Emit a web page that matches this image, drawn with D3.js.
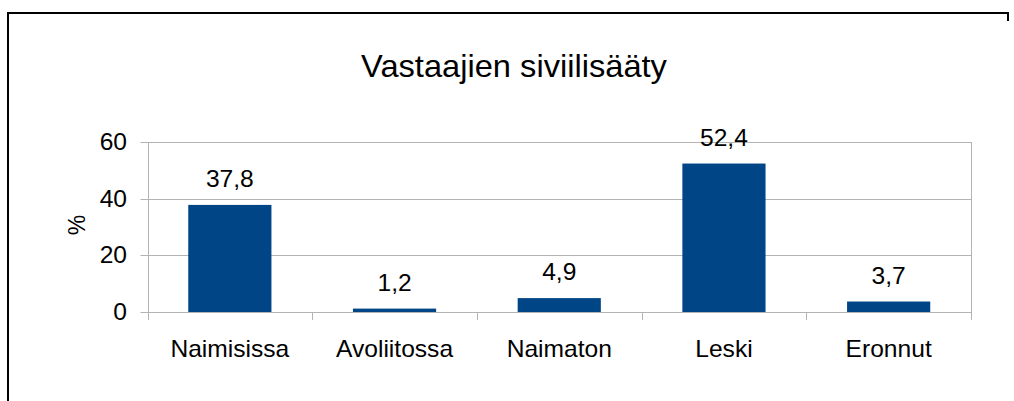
<!DOCTYPE html>
<html>
<head>
<meta charset="utf-8">
<script src="https://cdn.jsdelivr.net/npm/d3@7"></script>
<style>
  body { margin: 0; background: #fff; }
  text { font-family: "Liberation Sans", Arial, sans-serif; fill: #000; }
</style>
</head>
<body>
<svg id="chart"></svg>
<script>
// chart data
var categories = ["Naimisissa", "Avoliitossa", "Naimaton", "Leski", "Eronnut"];
var values = [37.8, 1.2, 4.9, 52.4, 3.7];
var yTicks = [0, 20, 40, 60];
var chartTitle = "Vastaajien siviilisääty";
var yTitle = "%";

var width = 1014,
    height = 401;
var margin = {left: 147.5, right: 43, top: 142, bottom: 89};
var stretch = 1.07; // text in the reference is a bit wide

var svg = d3.select("#chart")
    .attr("width", width)
    .attr("height", height);

// helper: place a horizontally stretched label
function place(px, py){
    return "translate(" + px + "," + py + ") scale(" + stretch + ",1)";
}

// outer frame (left + top, short piece on right)
svg.append("path")
    .attr("d", "M 8 401 L 8 13 L 1008 13 L 1008 21")
    .attr("fill", "none")
    .attr("stroke", "#000")
    .attr("stroke-width", 2);

var x = d3.scaleBand()
    .domain(categories)
    .range([margin.left, width - margin.right]);

var y = d3.scaleLinear()
    .domain([0, 60])
    .range([height - margin.bottom, margin.top]);

// gridlines
svg.append("g").selectAll("line")
    .data(yTicks)
    .enter().append("line")
    .attr("x1", margin.left - 7)
    .attr("x2", width - margin.right)
    .attr("y1", function(d){ return Math.round(y(d)) + 0.5; })
    .attr("y2", function(d){ return Math.round(y(d)) + 0.5; })
    .attr("stroke", "#b3b3b3")
    .attr("stroke-width", 1);

// vertical edges + category ticks
var bounds = categories.map(function(c){ return x(c); }).concat([width - margin.right]);
svg.append("g").selectAll("line")
    .data(bounds)
    .enter().append("line")
    .attr("x1", function(d){ return Math.round(d) + 0.5; })
    .attr("x2", function(d){ return Math.round(d) + 0.5; })
    .attr("y1", function(d, i){ return (i == 0 || i == bounds.length - 1) ? y(60) : y(0); })
    .attr("y2", y(0) + 8)
    .attr("stroke", "#b3b3b3")
    .attr("stroke-width", 1);

// bars
var bw = x.bandwidth() * 0.505;
svg.append("g").selectAll("rect")
    .data(values)
    .enter().append("rect")
    .attr("x", function(d, i){ return x(categories[i]) + x.bandwidth() / 2 - bw / 2; })
    .attr("y", function(d){ return y(d); })
    .attr("width", bw)
    .attr("height", function(d){ return y(0) - y(d); })
    .attr("fill", "#004586");

// value labels
svg.append("g").selectAll("text")
    .data(values)
    .enter().append("text")
    .attr("transform", function(d, i){ return place(x(categories[i]) + x.bandwidth() / 2, y(d) - 18); })
    .attr("text-anchor", "middle")
    .attr("font-size", "23px")
    .text(function(d){ return String(d.toFixed(1)).replace(".", ","); });

// y tick labels
svg.append("g").selectAll("text")
    .data(yTicks)
    .enter().append("text")
    .attr("transform", function(d){ return place(127, y(d) + 8); })
    .attr("text-anchor", "end")
    .attr("font-size", "23px")
    .text(function(d){ return d; });

// category labels
svg.append("g").selectAll("text")
    .data(categories)
    .enter().append("text")
    .attr("transform", function(d){ return place(x(d) + x.bandwidth() / 2, 357); })
    .attr("text-anchor", "middle")
    .attr("font-size", "23px")
    .text(function(d){ return d; });

// axis title
svg.append("text")
    .attr("transform", "translate(85,225) rotate(-90)")
    .attr("text-anchor", "middle")
    .attr("font-size", "23px")
    .text(yTitle);

// chart title
svg.append("text")
    .attr("transform", place(514, 77))
    .attr("text-anchor", "middle")
    .attr("font-size", "30.5px")
    .text(chartTitle);
</script>
</body>
</html>
